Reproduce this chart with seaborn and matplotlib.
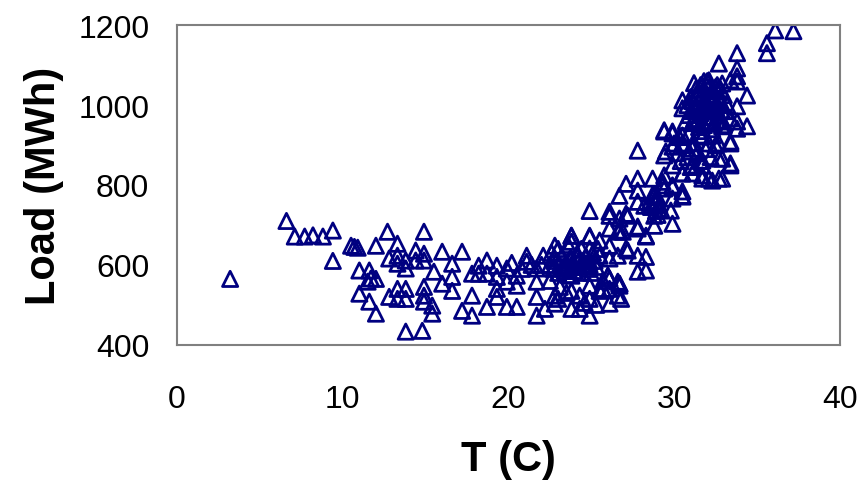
import matplotlib
matplotlib.use("Agg")
import matplotlib.pyplot as plt
import seaborn as sns
import pandas as pd

# temperature (C) and load (MWh)
temp_left = [3.2, 6.6, 7.1, 7.7, 8.2, 8.8, 9.4, 9.4, 10.5, 10.7, 10.9, 12.0,
             11.0, 11.6, 11.5, 12.0, 11.0, 11.6, 12.0, 11.7]
load_left = [565, 710, 671, 671, 674, 671, 686, 610, 648, 645, 643, 648,
             586, 586, 558, 565, 528, 508, 478, 566]

temp_mid = [12.7, 14.9, 13.3, 12.8, 13.3, 13.3, 13.8, 13.8, 14.4, 14.4, 14.9, 14.9,
            16.0, 17.2, 15.5, 16.6, 16.6, 16.0, 16.6, 12.8, 13.3, 13.8, 13.3, 13.8,
            14.9, 14.9, 14.9, 15.4, 15.4, 13.8, 14.8, 17.8, 17.2, 17.8, 18.7, 18.2,
            18.7, 18.7, 17.8, 18.2, 19.3, 19.3, 19.3, 19.3, 19.9, 19.9, 19.9]
load_mid = [683, 683, 653, 616, 623, 603, 611, 591, 636, 611, 628, 611,
            633, 633, 583, 603, 570, 553, 535, 520, 540, 540, 515, 515,
            545, 523, 508, 498, 478, 433, 435, 523, 485, 473, 495, 598,
            611, 578, 578, 578, 598, 570, 540, 520, 591, 558, 495]

temp_low = [20.5, 20.5, 21.1, 21.1, 20.5, 21.7, 21.7, 21.7, 21.7, 22.1, 22.2,
            22.8, 22.8, 22.8, 22.8, 23.3, 23.8, 23.8, 23.8, 23.8, 23.8, 23.8,
            24.3, 24.3, 24.3, 24.9, 24.9, 24.9, 24.9, 24.9, 24.9, 25.5, 25.5,
            25.5, 26.1, 26.1, 26.1, 26.1, 26.1, 26.1, 26.1, 26.6, 26.6, 26.6,
            26.6, 24.9, 27.1, 27.1, 20.2, 20.8, 21.4, 22.5, 23.1, 22.0,
            23.0, 23.5, 24.6, 25.7, 26.0, 26.7, 25.3]
load_low = [573, 548, 623, 608, 495, 591, 558, 520, 473, 623, 490,
            648, 616, 523, 503, 591, 673, 658, 616, 573, 535, 490,
            616, 523, 490, 671, 641, 608, 548, 515, 473, 661, 623,
            535, 648, 616, 566, 540, 503, 691, 723, 683, 623, 558,
            523, 735, 728, 641, 605, 590, 600, 560, 545, 600,
            515, 530, 505, 560, 573, 553, 500]

# dense cluster around 22-25 C
temp_clump = [22.5, 22.7, 22.9, 23.0, 23.1, 23.2, 23.3, 23.4, 23.5, 23.6, 23.7,
              23.8, 23.9, 24.0, 24.1, 24.2, 24.3, 24.4, 24.5, 24.6, 24.7, 24.8,
              24.9, 25.0, 25.1, 25.2, 25.3, 23.0, 23.6, 24.4, 22.6, 25.4]
load_clump = [600, 590, 610, 580, 600, 620, 595, 585, 605, 575, 615,
              595, 600, 585, 625, 605, 595, 580, 610, 600, 620, 590,
              600, 580, 630, 610, 595, 640, 650, 640, 630, 640]

temp_rise = [27.8, 29.4, 29.9, 31.4, 27.1, 27.8, 27.8, 28.7, 29.4, 29.4, 29.9,
             30.5, 28.8, 28.9, 28.2, 29.9, 29.8, 29.9, 28.8, 28.8, 27.8, 28.3,
             27.2, 26.9, 27.2, 27.8, 28.3, 27.8, 28.3, 26.7, 26.8, 29.5, 29.9,
             30.5, 30.9, 31.1, 30.5, 31.7, 31.7, 32.1, 32.7, 32.7, 33.4, 33.4,
             32.1, 31.7, 33.8, 32.7, 30.5, 23.8, 24.9, 26.7, 26.1, 26.7, 26.7,
             27.8, 28.3, 26.0, 26.7, 25.7, 30.5, 29.3, 27.8,
             28.6, 28.8, 28.9, 29.0, 29.1, 28.7, 29.2, 28.5, 29.0]
load_rise = [886, 934, 929, 959, 803, 816, 786, 816, 824, 791, 796,
             771, 773, 753, 748, 766, 736, 703, 723, 698, 691, 673,
             723, 683, 636, 623, 620, 583, 586, 548, 515, 884, 896,
             904, 884, 849, 829, 849, 824, 816, 816, 866, 849, 909,
             904, 924, 941, 959, 924, 673, 673, 773, 733, 716, 686,
             696, 671, 573, 553, 540, 773, 808, 758,
             745, 760, 735, 770, 750, 775, 740, 755, 725]

temp_top = [36.1, 35.6, 35.6, 37.2, 33.8, 32.7, 33.8, 33.8, 33.8, 33.4, 34.4,
            33.8, 32.1, 31.7, 32.9, 30.5, 30.5, 29.4, 29.9, 34.4, 33.8, 33.4,
            32.9, 32.9, 31.7, 32.3, 33.4, 32.7, 32.9, 33.4, 32.9, 32.3, 31.7,
            31.1, 30.5, 29.9, 29.4, 30.0, 31.1, 31.7, 29.3, 29.9, 30.5]
load_top = [1187, 1155, 1130, 1185, 1130, 1104, 1092, 1072, 1059, 1062, 1024,
            997, 1062, 1049, 1054, 1012, 992, 937, 934, 947, 959, 967,
            962, 947, 921, 924, 904, 904, 866, 854, 816, 811, 816,
            829, 829, 849, 874, 904, 891, 861, 799, 799, 784]

# dense block at 31-33 C
temp_block = [30.8, 30.9, 31.0, 31.1, 31.2, 31.3, 31.4, 31.5, 31.6, 31.7, 31.8,
              31.9, 32.0, 32.1, 32.2, 32.3, 32.4, 32.5, 32.6, 32.7, 32.8, 32.9,
              33.0, 33.1, 33.2, 31.2, 32.0, 32.6, 31.5, 32.3, 30.7, 31.0, 31.8,
              32.4, 33.0, 30.2, 30.4, 30.6, 30.8, 31.0, 31.2, 31.4, 31.6, 31.9,
              32.2, 32.5, 30.3, 30.9, 31.5,
              31.1, 31.3, 31.5, 31.7, 31.9, 32.1, 32.3, 32.5, 32.7, 32.9,
              31.2, 31.6, 32.0, 32.4, 32.8, 31.4, 31.8, 32.2]
load_block = [1000, 975, 1020, 955, 990, 1040, 965, 1005, 980, 1030, 950,
              1010, 990, 1045, 970, 1015, 955, 995, 1035, 975, 1005, 960,
              1025, 985, 1000, 1055, 1060, 1050, 945, 940, 960, 985, 1000,
              1020, 950, 880, 860, 900, 870, 845, 905, 880, 860, 890,
              870, 900, 920, 930, 935,
              1010, 985, 1030, 1000, 970, 1020, 990, 1045, 1015, 985,
              965, 1050, 1000, 985, 1040, 1025, 1060, 960]

df = pd.DataFrame({
    "T": temp_left + temp_mid + temp_low + temp_clump + temp_rise + temp_top + temp_block,
    "Load": load_left + load_mid + load_low + load_clump + load_rise + load_top + load_block,
})

sns.set_style("white")
plt.rcParams["font.family"] = ["Liberation Sans", "DejaVu Sans"]
plt.rcParams["text.color"] = "black"
plt.rcParams["axes.labelcolor"] = "black"
plt.rcParams["xtick.color"] = "black"
plt.rcParams["ytick.color"] = "black"

fig, ax = plt.subplots(figsize=(8.64, 4.85), dpi=100)
fig.subplots_adjust(left=0.205, right=0.972, top=0.946, bottom=0.287)

sns.scatterplot(data=df, x="T", y="Load", marker="^", s=120,
                facecolor="none", edgecolor="#000080", linewidth=2.0, ax=ax)

ax.set_xlim(0, 40)
ax.set_ylim(400, 1200)
ax.set_xticks([0, 10, 20, 30, 40])
ax.set_yticks([400, 600, 800, 1000, 1200])
ax.tick_params(axis="x", length=0, pad=28, labelsize=23, labelcolor="black")
ax.tick_params(axis="y", length=0, pad=20, labelsize=23, labelcolor="black")
ax.set_xlabel("T (C)", fontsize=30, fontweight="bold", labelpad=18, color="black")
ax.set_ylabel("Load (MWh)", fontsize=30, fontweight="bold", labelpad=10, color="black")
for sp in ax.spines.values():
    sp.set_color("#808080")
    sp.set_linewidth(1.5)

plt.savefig("out.png", dpi=100)
